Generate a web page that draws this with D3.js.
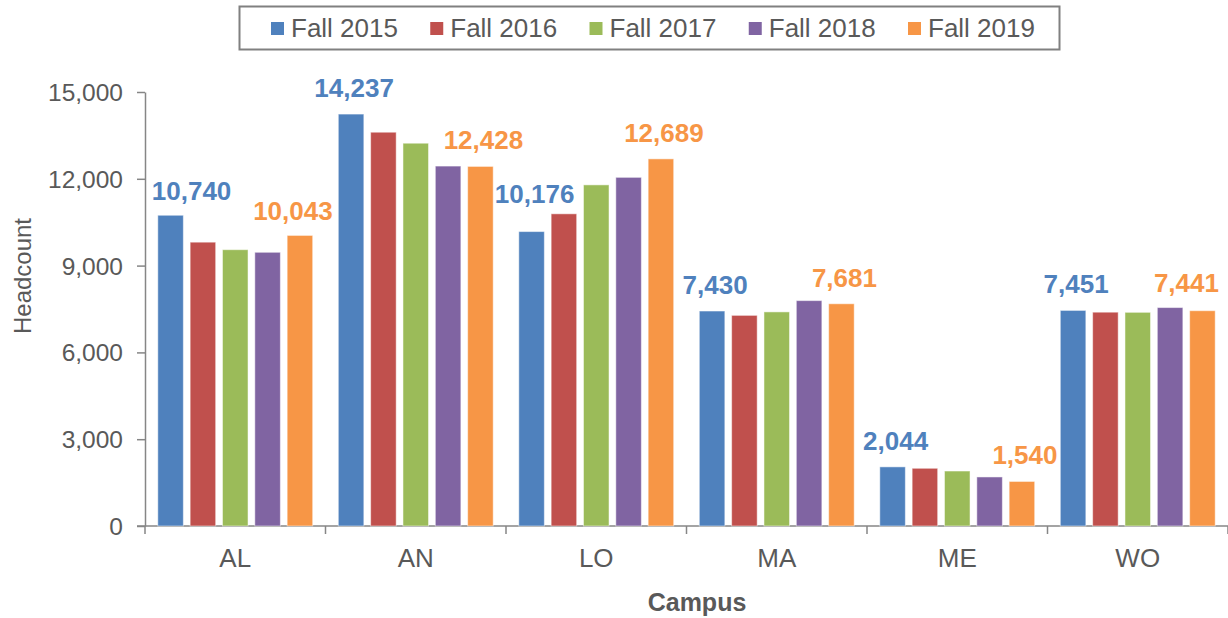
<!DOCTYPE html>
<html>
<head>
<meta charset="utf-8">
<script src="https://cdn.jsdelivr.net/npm/d3@7"></script>
<style>
  body { margin: 0; background: #fff; }
  svg { display: block; font-family: 'Liberation Sans', Arial, sans-serif; }
</style>
</head>
<body>
<svg id="chart" width="1228" height="618"></svg>
<script>
'use strict';

// data
var campuses = ['AL', 'AN', 'LO', 'MA', 'ME', 'WO'];
var seriesNames = ['Fall 2015', 'Fall 2016', 'Fall 2017', 'Fall 2018', 'Fall 2019'];
var fall2015 = [10740, 14237, 10176, 7430, 2044, 7451];
var fall2016 = [9810, 13610, 10790, 7280, 1995, 7390];
var fall2017 = [9550, 13230, 11790, 7400, 1900, 7385];
var fall2018 = [9460, 12440, 12050, 7790, 1695, 7550];
var fall2019 = [10043, 12428, 12689, 7681, 1540, 7441];
var yTicks = [0, 3000, 6000, 9000, 12000, 15000];
var labeledSeries = ['Fall 2015', 'Fall 2019'];

var colors = ['#4f81bd', '#c0504d', '#9bbb59', '#8064a2', '#f79646'];
var textColor = '#595959';
var axisColor = '#868686';

// hand-moved data labels in the original (layout only)
var labelNudge = {
  'AL|Fall 2015': [18, 2],
  'AL|Fall 2019': [-10, 2],
  'LO|Fall 2015': [0, -12],
  'WO|Fall 2019': [-19, -2]
};

var values = [fall2015, fall2016, fall2017, fall2018, fall2019];
var rows = campuses.map(function (c, i) {
  return {
    campus: c,
    items: seriesNames.map(function (s, j) {
      return { campus: c, series: s, value: values[j][i], color: colors[j] };
    })
  };
});

var svg = d3.select('#chart');
var plotLeft = 145, plotRight = 1228, plotTop = 92, plotBottom = 526;

var x0 = d3.scaleBand().domain(campuses).range([plotLeft, plotRight]).padding(0);
var x1 = d3.scaleBand().domain(seriesNames)
  .range([12.8, x0.bandwidth() - 12.8])
  .paddingInner(0.21).paddingOuter(0);
var y = d3.scaleLinear().domain([0, 15000]).range([plotBottom, plotTop]);

// y axis
var yAxis = d3.axisLeft(y).tickValues(yTicks).tickSize(8).tickSizeOuter(0)
  .tickFormat(d3.format(','));
var yG = svg.append('g').attr('transform', 'translate(' + plotLeft + ',0)').call(yAxis);
yG.select('.domain').attr('stroke', axisColor).attr('stroke-width', 1.5);
yG.selectAll('.tick line').attr('stroke', axisColor).attr('stroke-width', 1.5);
yG.selectAll('.tick text')
  .attr('x', -22)
  .attr('dy', '0.35em')
  .attr('fill', textColor)
  .style('font-size', '24.5px')
  .style('font-family', "'Liberation Sans', Arial, sans-serif");

// x axis: line plus ticks at category boundaries
var xG = svg.append('g').attr('class', 'x axis');
xG.append('line')
  .attr('x1', plotLeft - 8).attr('x2', plotRight)
  .attr('y1', plotBottom).attr('y2', plotBottom)
  .attr('stroke', axisColor).attr('stroke-width', 1.5);
var bounds = campuses.map(function (c) { return x0(c); }).concat([plotRight]);
xG.selectAll('line.tick')
  .data(bounds)
  .enter()
  .append('line')
  .attr('class', 'tick')
  .attr('x1', function (d) { return d; }).attr('x2', function (d) { return d; })
  .attr('y1', plotBottom).attr('y2', plotBottom + 8)
  .attr('stroke', axisColor).attr('stroke-width', 1.5);
xG.selectAll('text.cat')
  .data(campuses)
  .enter()
  .append('text')
  .attr('class', 'cat')
  .attr('x', function (d) { return x0(d) + x0.bandwidth() / 2; })
  .attr('y', 567)
  .attr('text-anchor', 'middle')
  .attr('fill', textColor)
  .style('font-size', '26px')
  .text(function (d) { return d; });

// bars
var groups = svg.selectAll('g.campus')
  .data(rows)
  .enter()
  .append('g')
  .attr('class', 'campus')
  .attr('transform', function (d) { return 'translate(' + x0(d.campus) + ',0)'; });

groups.selectAll('rect')
  .data(function (d) { return d.items; })
  .enter()
  .append('rect')
  .attr('x', function (d) { return x1(d.series); })
  .attr('y', function (d) { return y(d.value); })
  .attr('width', x1.bandwidth())
  .attr('height', function (d) { return y(0) - y(d.value); })
  .attr('fill', function (d) { return d.color; })
  .attr('stroke', '#ffffff')
  .attr('stroke-opacity', 0.5)
  .attr('stroke-width', 1);

// value labels on first and last year
groups.selectAll('text.val')
  .data(function (d) {
    return d.items.filter(function (it) { return labeledSeries.indexOf(it.series) >= 0; });
  })
  .enter()
  .append('text')
  .attr('class', 'val')
  .attr('x', function (d) {
    var n = labelNudge[d.campus + '|' + d.series] || [0, 0];
    return x1(d.series) + x1.bandwidth() / 2 + 3 + n[0];
  })
  .attr('y', function (d) {
    var n = labelNudge[d.campus + '|' + d.series] || [0, 0];
    return y(d.value) - 17 + n[1];
  })
  .attr('text-anchor', 'middle')
  .attr('fill', function (d) { return d.color; })
  .style('font-size', '26px')
  .style('font-weight', 'bold')
  .text(function (d) { return d3.format(',')(d.value); });

// axis titles
svg.append('text')
  .attr('x', 697).attr('y', 611)
  .attr('text-anchor', 'middle')
  .attr('fill', textColor)
  .style('font-size', '25px')
  .style('font-weight', 'bold')
  .text('Campus');

svg.append('text')
  .attr('transform', 'translate(' + [31, 276] + ') rotate(-90)')
  .attr('text-anchor', 'middle')
  .attr('fill', textColor)
  .style('font-size', '24px')
  .text('Headcount');

// legend
var legend = svg.append('g').attr('class', 'legend');
legend.append('rect')
  .attr('x', 239.5).attr('y', 6.5)
  .attr('width', 820).attr('height', 43)
  .attr('fill', '#fff')
  .attr('stroke', '#808080').attr('stroke-width', 2);

var legItems = legend.selectAll('g.item')
  .data(seriesNames)
  .enter()
  .append('g')
  .attr('class', 'item')
  .attr('transform', function (d, i) { return 'translate(' + [271 + i * 159.25, 0] + ')'; });
legItems.append('rect')
  .attr('x', 0).attr('y', 22)
  .attr('width', 13).attr('height', 13)
  .attr('fill', function (d, i) { return colors[i]; });
legItems.append('text')
  .attr('x', 20).attr('y', 37)
  .attr('fill', textColor)
  .style('font-size', '26px')
  .text(function (d) { return d; });
</script>
</body>
</html>
